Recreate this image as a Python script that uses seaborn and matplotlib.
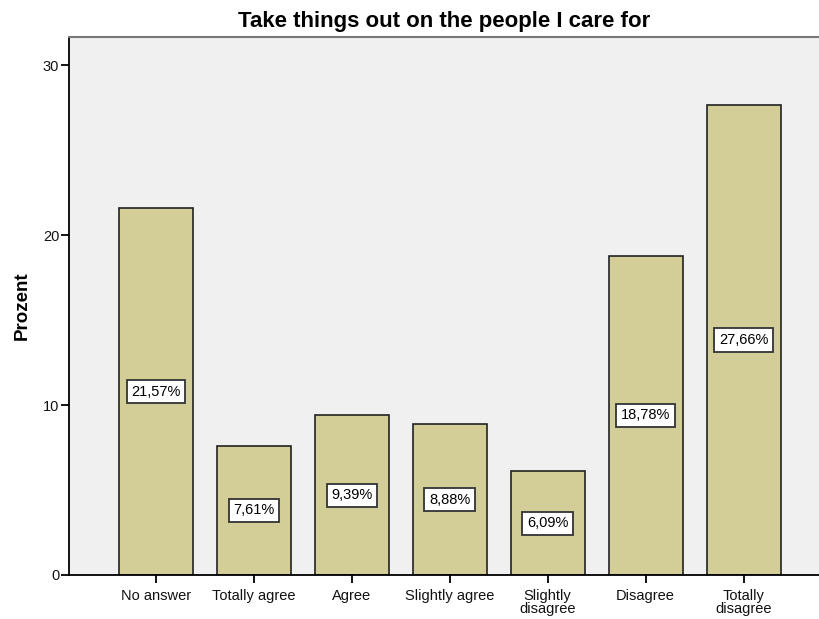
import pandas as pd
import matplotlib
matplotlib.use("Agg")
import matplotlib.pyplot as plt
import seaborn as sns

# Data
categories = ["No answer", "Totally agree", "Agree", "Slightly agree",
              "Slightly\ndisagree", "Disagree", "Totally\ndisagree"]
percent = [21.57, 7.61, 9.39, 8.88, 6.09, 18.78, 27.66]

df = pd.DataFrame({"Antwort": categories, "Prozent": percent})

sns.set_theme(style="white")
plt.rcParams["font.family"] = ["Liberation Sans", "DejaVu Sans"]

fig = plt.figure(figsize=(8.2, 6.19), dpi=100)
ax = fig.add_axes([0.0841, 0.0711, 0.9159, 0.8689])
ax.set_facecolor("#f0f0f0")

sns.barplot(data=df, x="Antwort", y="Prozent", color="#d3ce97",
            saturation=1, width=0.755, edgecolor="#222222", linewidth=1.2, ax=ax)

# value labels in boxes at half height
for i, v in enumerate(percent):
    ax.text(i, v / 2, f"{v:.2f}%".replace(".", ","), ha="center", va="center",
            fontsize=10.5, color="black",
            bbox=dict(boxstyle="square,pad=0.32", fc="white", ec="#333333", lw=1.3))

ax.set_xlim(-0.888, 6.78)
ax.set_ylim(0, 31.65)
ax.set_yticks([0, 10, 20, 30])
ax.set_xlabel("")
ax.set_ylabel("Prozent", fontsize=13.5, fontweight="bold", labelpad=9,
              color="black")
ax.set_title("Take things out on the people I care for", fontsize=16,
             fontweight="bold", pad=7, color="black")

ax.tick_params(axis="both", which="major", length=6, width=1.3, color="black",
               labelsize=10.5, left=True, bottom=True)
ax.tick_params(axis="y", pad=1)
ax.tick_params(axis="x", pad=4)
for lbl in ax.get_xticklabels() + ax.get_yticklabels():
    lbl.set_color("#111111")
    lbl.set_linespacing(0.95)

for side in ["left", "bottom"]:
    ax.spines[side].set_color("black")
    ax.spines[side].set_linewidth(1.3)
ax.spines["top"].set_color("#777777")
ax.spines["top"].set_linewidth(1.5)
ax.spines["right"].set_visible(False)

fig.savefig("out.png", dpi=100)
